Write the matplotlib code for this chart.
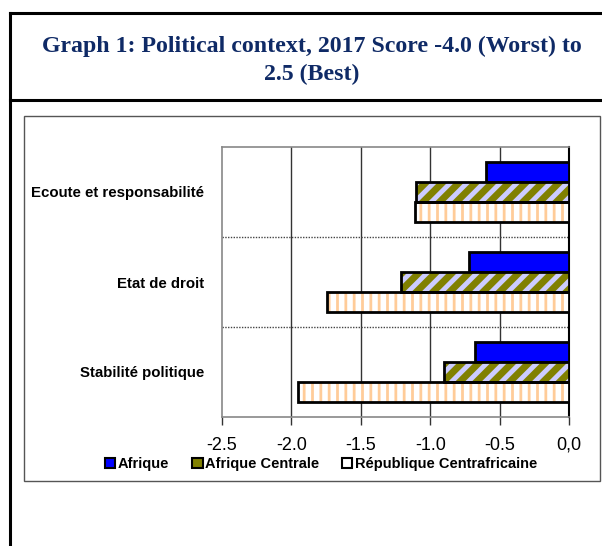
import matplotlib
matplotlib.use("Agg")
import matplotlib.pyplot as plt
from matplotlib.patches import Patch, Rectangle
from matplotlib.lines import Line2D
import numpy as np

# Governance indicators, 2017 (score -4.0 worst to 2.5 best)
categories = ["Ecoute et responsabilité", "Etat de droit", "Stabilité politique"]
series_names = ["Afrique", "Afrique Centrale", "République Centrafricaine"]
afrique = [-0.60, -0.72, -0.68]
afrique_centrale = [-1.10, -1.21, -0.90]
rca = [-1.11, -1.74, -1.95]
x_ticks = [-2.5, -2.0, -1.5, -1.0, -0.5, 0.0]
x_tick_labels = ["-2.5", "-2.0", "-1.5", "-1.0", "-0.5", "0,0"]

W, H = 602, 546
fig = plt.figure(figsize=(W / 100, H / 100), dpi=100)


def fx(px):
    return px / W


def fy(py):
    return 1 - py / H


# outer box + title separator
for xs, ys, lw in [([9.5, 9.5], [13, 560], 2.2),
                   ([9.5, 610], [13, 13], 2.2),
                   ([9.5, 610], [100, 100], 2.2)]:
    fig.add_artist(Line2D([fx(v) for v in xs], [fy(v) for v in ys],
                          transform=fig.transFigure, color="black", lw=lw))

# inner chart frame
fig.add_artist(Rectangle((fx(24), fy(481)), fx(600) - fx(24), fy(116) - fy(481),
                         transform=fig.transFigure, fill=False,
                         edgecolor="#555555", lw=1.0))

fig.text(fx(312), fy(60), "Graph 1: Political context, 2017 Score -4.0 (Worst) to\n2.5 (Best)",
         ha="center", va="center", family="Liberation Serif", weight="bold",
         fontsize=17.2, color="#0F2A66", linespacing=1.42)

ax = fig.add_axes([fx(222), fy(417), fx(569) - fx(222), fy(147) - fy(417)])

y = np.arange(len(categories))
h = 0.222
offsets = [-h, 0, h]

# Afrique: solid blue
ax.barh(y + offsets[0], afrique, height=h, color="#0000FF",
        edgecolor="black", linewidth=2, zorder=3)

# Afrique Centrale: olive with lavender diagonal stripes
with plt.rc_context({"hatch.linewidth": 3.5}):
    ax.barh(y + offsets[1], afrique_centrale, height=h, color="#808000",
            edgecolor="#CCCCFF", hatch="//", linewidth=0, zorder=3)
ax.barh(y + offsets[1], afrique_centrale, height=h, fill=False,
        edgecolor="black", linewidth=2, zorder=4)

# RCA: white with light orange vertical stripes
with plt.rc_context({"hatch.linewidth": 2.0}):
    ax.barh(y + offsets[2], rca, height=h, color="white",
            edgecolor="#FFCC99", hatch="||", linewidth=0, zorder=3)
ax.barh(y + offsets[2], rca, height=h, fill=False,
        edgecolor="black", linewidth=2, zorder=4)

ax.set_xlim(-2.5, 0)
ax.set_ylim(len(categories) - 0.5, -0.5)

# vertical grid lines and dotted category separators
for v in x_ticks[1:-1]:
    ax.axvline(v, color="#333333", lw=1.0, zorder=1)
for s in [0.5, 1.5]:
    ax.axhline(s, color="#444444", lw=1.0, ls=(0, (1, 1)), zorder=1)

ax.set_xticks(x_ticks)
ax.set_xticklabels(x_tick_labels, family="Liberation Sans", fontsize=13, va="baseline")
ax.tick_params(axis="x", direction="out", length=6, width=1, color="#333333", pad=17.5)
ax.set_yticks(y)
ax.set_yticklabels(categories, family="Liberation Sans", weight="bold", fontsize=10.8)
ax.tick_params(axis="y", length=0, pad=13)

for side in ["left", "top", "bottom"]:
    ax.spines[side].set_color("#888888")
    ax.spines[side].set_linewidth(1.2)
ax.spines["right"].set_color("black")
ax.spines["right"].set_linewidth(1.5)

handles = [Patch(facecolor="#0000FF", edgecolor="black", lw=1.5),
           Patch(facecolor="#808000", edgecolor="black", lw=1.5),
           Patch(facecolor="white", edgecolor="black", lw=1.5)]
fig.legend(handles, series_names, loc="center", bbox_to_anchor=(fx(321), fy(464)),
           ncol=3, frameon=False, handlelength=0.7, handleheight=0.7,
           handletextpad=0.15, columnspacing=1.6,
           prop={"family": "Liberation Sans", "weight": "bold", "size": 10.5})

fig.savefig("out.png", dpi=100)
